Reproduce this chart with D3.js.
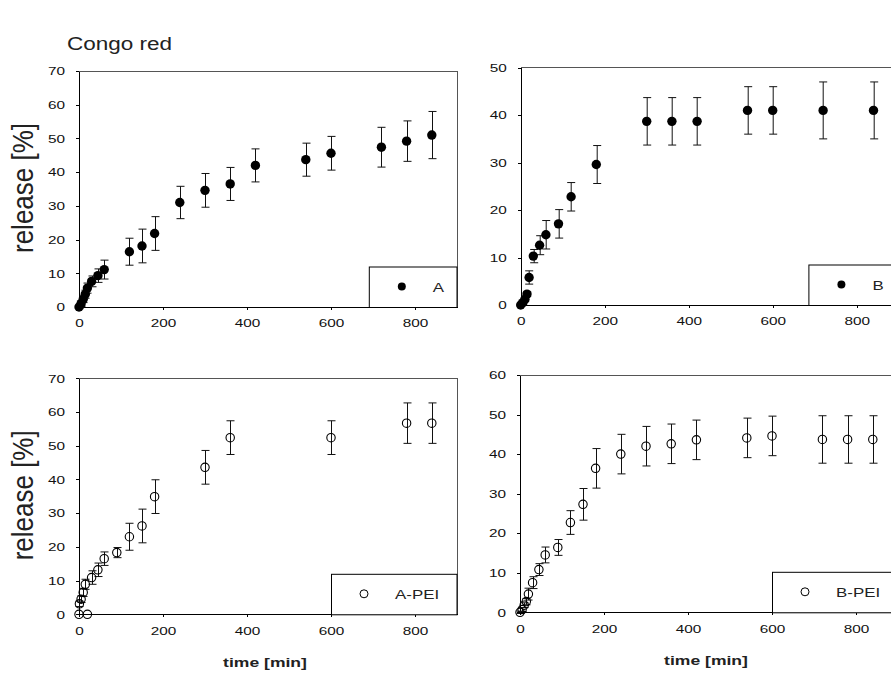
<!DOCTYPE html>
<html>
<head>
<meta charset="utf-8">
<script src="https://cdn.jsdelivr.net/npm/d3@7"></script>
<style>
  body { margin: 0; background: #fff; }
  svg { display: block; font-family: "Liberation Sans", Arial, sans-serif; }
  .axis path, .axis line { stroke: #000; shape-rendering: crispEdges; }
  .axis text { fill: #111; font-size: 11.8px; }
</style>
</head>
<body>
<div id="chart"></div>
<script>
// time points [min], release [%] and error (+/-) for every formulation
var timeA = [0, 5, 10, 15, 20, 30, 45, 60, 120, 150, 180, 240, 300, 360, 420, 540, 600, 720, 780, 840];
var relA  = [0, 1, 2.3, 3.8, 5.6, 7.6, 9.3, 11.1, 16.4, 18.1, 21.8, 31, 34.6, 36.5, 42, 43.7, 45.6, 47.4, 49.2, 51];
var errA  = [0.5, 0.8, 1, 1.2, 1.5, 1.6, 2, 2.8, 4, 5, 5, 4.8, 5, 4.9, 4.9, 4.9, 5, 5.9, 6, 7];

var timeB = [0, 5, 10, 15, 20, 30, 45, 60, 90, 120, 180, 300, 360, 420, 540, 600, 720, 840];
var relB  = [0, 0.5, 1.2, 2.3, 5.8, 10.3, 12.6, 14.8, 17.1, 22.8, 29.6, 38.7, 38.7, 38.7, 41, 41, 41, 41];
var errB  = [0.2, 0.3, 0.4, 0.5, 1.4, 1.4, 2, 3, 3, 3, 4, 5, 5, 5, 5, 5, 6, 6];

var timeAP = [0, 1, 5, 10, 15, 20, 30, 45, 60, 90, 120, 150, 180, 300, 360, 600, 780, 840];
var relAP  = [0, 3.1, 4.5, 6.5, 8.9, 0, 10.9, 13.2, 16.5, 18.3, 23, 26.2, 34.9, 43.6, 52.4, 52.4, 56.7, 56.7];
var errAP  = [0, 0.8, 1, 1.2, 1.5, 0, 2, 2, 2, 1.5, 4, 5, 5, 5, 5, 5, 6, 6];

var timeBP = [0, 5, 10, 15, 20, 30, 45, 60, 90, 120, 150, 180, 240, 300, 360, 420, 540, 600, 720, 780, 840];
var relBP  = [0, 0.7, 1.8, 2.7, 4.6, 7.5, 10.8, 14.5, 16.4, 22.7, 27.3, 36.4, 40, 42, 42.6, 43.6, 44.1, 44.6, 43.7, 43.7, 43.7];
var errBP  = [0.3, 0.5, 0.6, 0.8, 1.5, 1.5, 1.5, 2, 2, 3, 4, 5, 5, 5, 5, 5, 5, 5, 6, 6, 6];

var xTicks = [0, 200, 400, 600, 800];
var TITLE = "Congo red",
    Y_LABEL = "release [%]",
    X_LABEL = "time [min]";

var W = 891, H = 677, SX = 1.3;   // the original picture is stretched sideways

// panel layout (pixels)
var panels = [
  {name: "A",     t: timeA,  v: relA,  e: errA,  left: 79,    top: 71,    h: 236,   yMax: 70, open: false, legFrom: 690, yLab: true,  xLab: false},
  {name: "B",     t: timeB,  v: relB,  e: errB,  left: 520.7, top: 67.7,  h: 237.3, yMax: 50, open: false, legFrom: 685, yLab: false, xLab: false},
  {name: "A-PEI", t: timeAP, v: relAP, e: errAP, left: 79,    top: 378.3, h: 236,   yMax: 70, open: true,  legFrom: 600, yLab: true,  xLab: true},
  {name: "B-PEI", t: timeBP, v: relBP, e: errBP, left: 520,   top: 375,   h: 237.3, yMax: 60, open: true,  legFrom: 600, yLab: false, xLab: true}
];
var plotW = 378;

function stretch(sel, sx) {
  sel.each(function() {
    var t = d3.select(this);
    var x = +t.attr("x") || 0, y = +t.attr("y") || 0;
    t.attr("x", 0).attr("y", 0)
      .attr("transform", "translate(" + x + "," + y + ") scale(" + sx + ",1)");
  });
}

var svg = d3.select("#chart").append("svg")
  .attr("width", W)
  .attr("height", H);

svg.append("text")
  .attr("x", 67).attr("y", 50)
  .style("font-size", "18px")
  .style("fill", "#222")
  .text(TITLE)
  .call(stretch, 1.25);

panels.forEach(function(p) {
  var x = d3.scaleLinear().domain([0, 900]).range([0, plotW]);
  var y = d3.scaleLinear().domain([0, p.yMax]).range([p.h, 0]);
  var g = svg.append("g").attr("transform", "translate(" + p.left + "," + p.top + ")");

  // frame: top and right in grey
  g.append("line").attr("x1", 0).attr("x2", plotW).attr("y1", 0).attr("y2", 0)
    .style("stroke", "#555").style("shape-rendering", "crispEdges");
  g.append("line").attr("x1", plotW).attr("x2", plotW).attr("y1", 0).attr("y2", p.h)
    .style("stroke", "#555").style("shape-rendering", "crispEdges");

  var yAxis = d3.axisLeft(y).tickValues(d3.range(0, p.yMax + 1, 10)).tickSize(3).tickSizeOuter(0).tickPadding(11);
  var xAxis = d3.axisBottom(x).tickValues(xTicks).tickSize(3).tickSizeOuter(0).tickPadding(9);

  g.append("g").attr("class", "axis").call(yAxis)
    .selectAll("text").call(stretch, SX);
  g.append("g").attr("class", "axis").attr("transform", "translate(0," + p.h + ")").call(xAxis)
    .selectAll("text").call(stretch, SX);
  g.selectAll(".axis").attr("font-family", null).attr("font-size", null);

  var data = p.t.map(function(t, i) { return {t: t, v: p.v[i], e: p.e[i]}; });

  // error bars
  var eb = g.append("g").style("stroke", "#111").style("stroke-width", 1);
  data.forEach(function(d) {
    if (!d.e) return;
    var cx = Math.round(x(d.t)) + 0.5;
    eb.append("line").attr("x1", cx).attr("x2", cx).attr("y1", y(d.v + d.e)).attr("y2", y(d.v - d.e));
    eb.append("line").attr("x1", cx - 4).attr("x2", cx + 4).attr("y1", y(d.v + d.e)).attr("y2", y(d.v + d.e));
    eb.append("line").attr("x1", cx - 4).attr("x2", cx + 4).attr("y1", y(d.v - d.e)).attr("y2", y(d.v - d.e));
  });

  g.selectAll(".pt")
    .data(data)
    .enter().append("circle")
    .attr("class", "pt")
    .attr("cx", function(d) { return x(d.t); })
    .attr("cy", function(d) { return y(d.v); })
    .attr("r", p.open ? 4.2 : 4.7)
    .style("fill", p.open ? "none" : "#000")
    .style("stroke", "#000")
    .style("stroke-width", p.open ? 1.1 : 0);

  // legend, sits in the lower right corner of the plot
  var lx = x(p.legFrom), lh = 40.5;
  var leg = g.append("g").attr("transform", "translate(" + lx + "," + (p.h - lh) + ")");
  leg.append("rect")
    .attr("x", 0.5).attr("y", 0.5)
    .attr("width", plotW - lx - 0.5).attr("height", lh)
    .style("fill", "#fff").style("stroke", "#000");
  leg.append("circle")
    .attr("cx", 33).attr("cy", 20)
    .attr("r", 4)
    .style("fill", p.open ? "none" : "#000")
    .style("stroke", "#000").style("stroke-width", p.open ? 1 : 0);
  leg.append("text")
    .attr("x", 64).attr("y", 25.5)
    .style("font-size", "13px").style("fill", "#222")
    .text(p.name)
    .call(stretch, SX);

  if (p.yLab) {
    svg.append("text")
      .attr("transform", "translate(" + 33 + "," + (p.top + p.h / 2 - 1) + ") rotate(-90) scale(1,1.15)")
      .attr("text-anchor", "middle")
      .style("font-size", "26px").style("fill", "#222")
      .text(Y_LABEL);
  }
  if (p.xLab) {
    g.append("text")
      .attr("x", plotW / 2 - 3).attr("y", p.h + 53)
      .attr("text-anchor", "middle")
      .style("font-size", "13.5px").style("font-weight", "bold").style("fill", "#222")
      .text(X_LABEL)
      .call(stretch, SX);
  }
});
</script>
</body>
</html>
